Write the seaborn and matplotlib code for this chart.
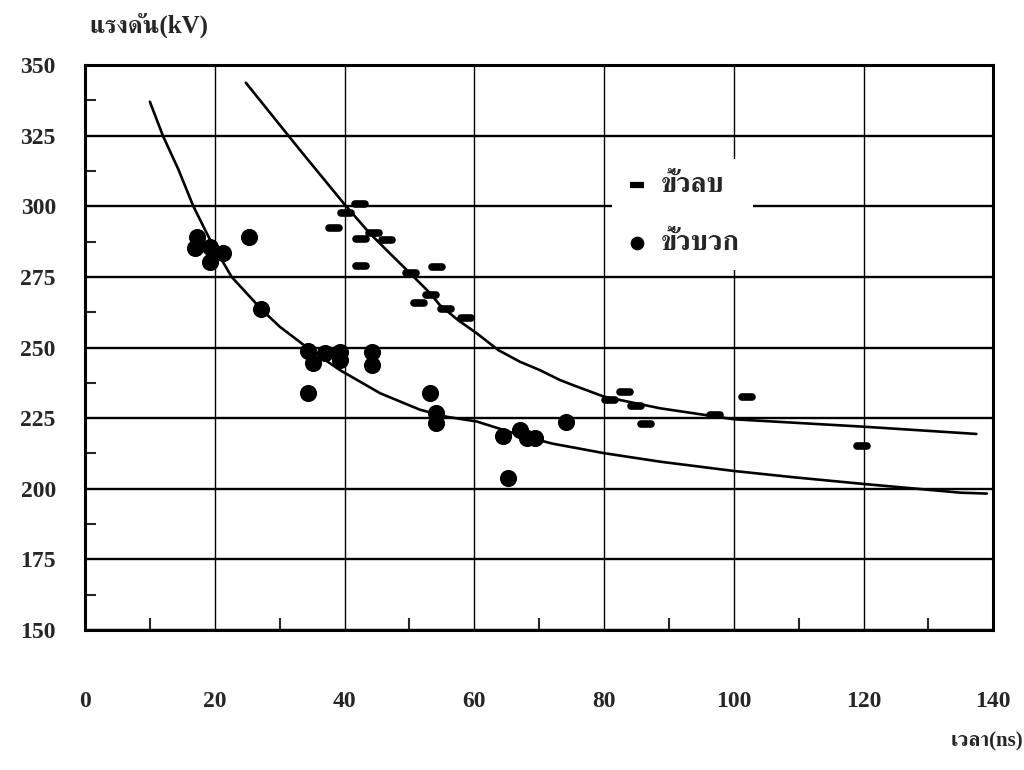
import matplotlib
matplotlib.use("Agg")
import matplotlib.pyplot as plt
import seaborn as sns
from matplotlib.ticker import MultipleLocator

# ---------------- data ----------------
neg_x = [38.4, 40.3, 42.4, 42.5, 42.5, 44.6, 46.6, 50.2, 51.5, 53.3, 54.3, 55.7, 58.8,
         80.9, 83.2, 85.0, 86.4, 97.1, 102.0, 119.8]
neg_y = [292.4, 297.5, 300.7, 288.3, 278.8, 290.4, 288.0, 276.3, 265.9, 268.6, 278.6, 263.5, 260.3,
         231.4, 234.4, 229.3, 222.8, 226.1, 232.6, 215.2]

pos_x = [16.9, 17.2, 19.3, 19.3, 21.3, 25.3, 27.2, 34.4, 34.4, 35.2, 37.0, 39.3, 39.3,
         44.2, 44.2, 53.2, 54.1, 54.1, 64.4, 65.2, 67.0, 68.1, 69.3, 74.1]
pos_y = [285.1, 289.2, 285.7, 280.4, 283.3, 289.0, 263.5, 248.9, 234.0, 244.4, 248.0, 248.5, 245.6,
         248.5, 243.8, 233.8, 226.7, 223.2, 218.6, 203.7, 220.8, 217.9, 217.9, 223.7]

# trend curves as drawn on the reference
pos_curve_x = [10, 12, 14.4, 16.7, 19.3, 22.6, 27.2, 30, 34.4, 39.3, 45.5, 51.6, 55.7, 60.4, 67, 72,
               80, 88.6, 100, 109.1, 120, 135, 139]
pos_curve_y = [337, 325, 313, 300, 288, 275, 263.5, 257.4, 249.7, 242, 233.8, 228, 225.5, 223.8, 219, 216,
               212.6, 209.6, 206.3, 204.1, 201.7, 198.6, 198.3]

neg_curve_x = [24.8, 33.1, 40.1, 43.9, 47.0, 50.1, 53.2, 54.7, 57.5, 60.4, 63.7, 67.0, 70.1, 73.2, 75.2,
               80, 88.6, 100, 119.8, 137.4]
neg_curve_y = [343.7, 320, 300.4, 290.4, 283.3, 276.3, 269.2, 265, 259.7, 255, 249.1, 245, 242, 238.5, 236.7,
               232.6, 228.5, 224.6, 222, 219.4]

x_ticks = [0, 20, 40, 60, 80, 100, 120, 140]
y_ticks = [150, 175, 200, 225, 250, 275, 300, 325, 350]

label_neg = "ขั้วลบ"
label_pos = "ขั้วบวก"
y_title = "แรงดัน(kV)"
x_title = "เวลา(ns)"

sns.set_theme(style="white")
plt.rcParams["font.family"] = ["Liberation Serif", "FreeSerif", "Maitree", "DejaVu Sans"]
plt.rcParams["font.weight"] = "bold"

fig, ax = plt.subplots(figsize=(10.24, 7.70), dpi=100)
fig.subplots_adjust(left=0.083, right=0.970, top=0.9156, bottom=0.1818)

sns.lineplot(x=pos_curve_x, y=pos_curve_y, ax=ax, color="black", lw=1.9, sort=False, estimator=None)
sns.lineplot(x=neg_curve_x, y=neg_curve_y, ax=ax, color="black", lw=1.9, sort=False, estimator=None)

sns.scatterplot(x=neg_x, y=neg_y, ax=ax, marker="_", s=55, linewidth=5.5, color="black",
                label=label_neg, zorder=5)
sns.scatterplot(x=pos_x, y=pos_y, ax=ax, marker="o", s=130, color="black", edgecolor="black",
                label=label_pos, zorder=5)
for coll in ax.collections:
    coll.set_capstyle("round")

ax.set_xlim(0, 140)
ax.set_ylim(150, 350)
ax.set_xticks(x_ticks)
ax.set_yticks(y_ticks)
ax.xaxis.set_minor_locator(MultipleLocator(10))
ax.yaxis.set_minor_locator(MultipleLocator(12.5))
ax.xaxis.grid(True, which="major", color="black", lw=1.0)
ax.yaxis.grid(True, which="major", color="black", lw=1.7)
ax.set_axisbelow(True)

ax.tick_params(axis="both", which="major", length=0, labelsize=17)
ax.tick_params(axis="x", which="major", pad=44)
ax.tick_params(axis="y", which="major", pad=21)
ax.tick_params(axis="x", which="minor", direction="in", length=9, width=1.5, bottom=True)
ax.tick_params(axis="y", which="minor", direction="in", length=8, width=1.5, left=True)
for lab in ax.get_xticklabels() + ax.get_yticklabels():
    lab.set_fontweight("bold")

for sp in ax.spines.values():
    sp.set_color("black")
    sp.set_linewidth(2.2)

ax.set_ylabel(y_title, rotation=0, fontsize=18, fontweight="bold", ha="left", va="center")
ax.yaxis.set_label_coords(0.005, 1.071)
ax.set_xlabel(x_title, fontsize=15, fontweight="bold", ha="center", va="center")
ax.xaxis.set_label_coords(0.993, -0.198)

leg = ax.legend(loc="upper left", bbox_to_anchor=(0.565, 0.858), frameon=True, facecolor="white",
                edgecolor="none", framealpha=1, fontsize=20, labelspacing=1.15, handlelength=0.8,
                handletextpad=0.45, borderpad=0.5)
handles = leg.legend_handles
handles[0].set_sizes([90])
handles[0].set_linewidths([4.5])
handles[0].set_capstyle("butt")
handles[1].set_sizes([80])
for t in leg.get_texts():
    t.set_fontweight("bold")

fig.savefig("out.png", dpi=100)
